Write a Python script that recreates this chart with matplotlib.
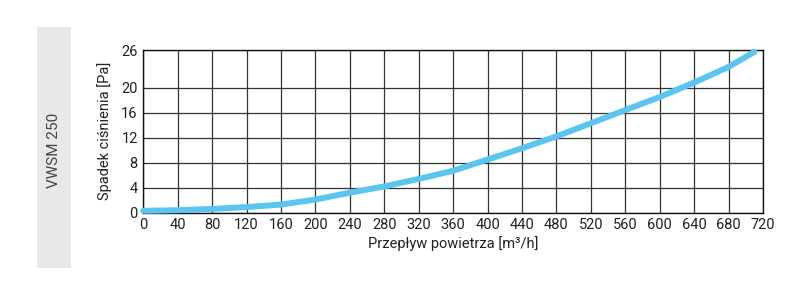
import matplotlib
matplotlib.use("Agg")
import matplotlib.pyplot as plt
from matplotlib.patches import Rectangle

flow = [0, 40, 80, 120, 160, 200, 240, 280, 320, 360, 400, 440, 480, 520, 560, 600, 640, 680, 710]
pressure = [0.3, 0.4, 0.6, 0.9, 1.3, 2.1, 3.2, 4.2, 5.4, 6.7, 8.5, 10.3, 12.2, 14.3, 16.4, 18.5, 20.8, 23.3, 25.7]
xticks = list(range(0, 721, 40))
yticks = [0, 4, 8, 12, 16, 20, 26]

plt.rcParams['font.family'] = ['Roboto', 'DejaVu Sans']

fig = plt.figure(figsize=(8, 2.87), dpi=100)
fig.patch.set_facecolor('white')

# side panel
fig.patches.append(Rectangle((37/800, 1-268/287), 34/800, 241/287, transform=fig.transFigure,
                             facecolor='#e8e8e8', edgecolor='none', zorder=0))
fig.text(54/800, 1-150/287, 'VWSM 250', rotation=90, ha='center', va='center',
         fontsize=11, color='#444444')

ax = fig.add_axes([143.3/800, 1-212.7/287, (763-143.3)/800, (212.7-50)/287])
ax.plot(flow, pressure, color='#5bc5f0', lw=4.3, solid_capstyle='round', zorder=3, clip_on=False)
ax.set_xlim(0, 720)
ax.set_ylim(0, 26)
ax.set_xticks(xticks)
ax.set_yticks(yticks)
ax.grid(True, color='#333333', lw=0.9)
ax.set_axisbelow(True)
ax.tick_params(length=0, labelsize=10.5, colors='#222222', pad=4)
for s in ax.spines.values():
    s.set_color('#111111')
    s.set_linewidth(1.0)
ax.set_xlabel('Przepływ powietrza [m³/h]', fontsize=10.5, color='#222222', labelpad=3)
ax.set_ylabel('Spadek ciśnienia [Pa]', fontsize=10.5, color='#222222', labelpad=7)

fig.savefig('out.png', dpi=100, facecolor='white')
